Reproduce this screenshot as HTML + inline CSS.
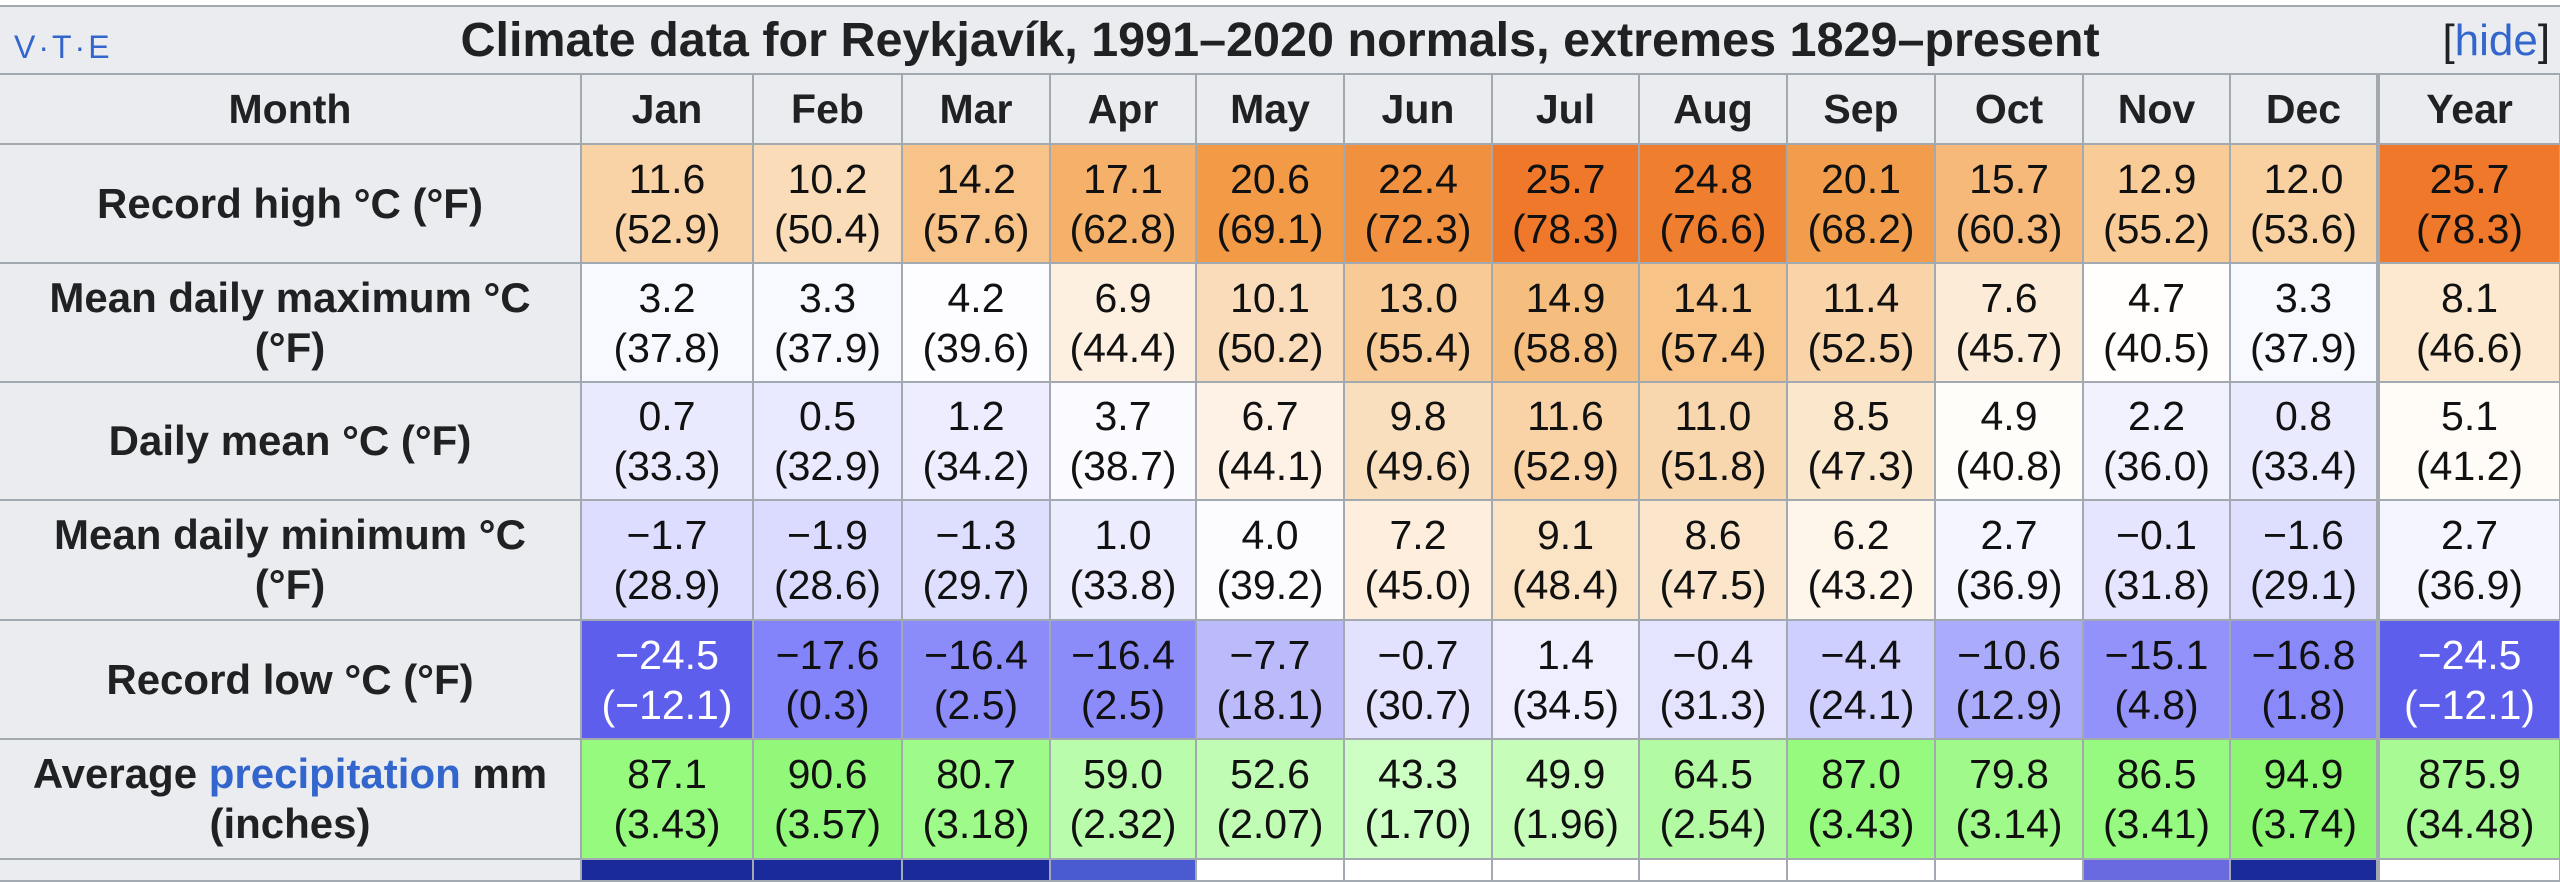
<!DOCTYPE html>
<html><head><meta charset="utf-8"><style>
html,body{margin:0;padding:0;background:#fff;width:2560px;height:860px;overflow:hidden}
table{position:absolute;left:0;top:5px;width:2560px;border-collapse:collapse;table-layout:fixed;font-family:"Liberation Sans",Arial,sans-serif;color:#202122}
td,th{border:2px solid #a2a9b1;padding:0;text-align:center;vertical-align:middle;overflow:hidden}
th{background:#eaecf0;font-weight:bold;font-size:41px;line-height:48px}
tr.r1 th,tr.r2 th,tr.r3 th,tr.r4 th,tr.r5 th,tr.r6 th{font-size:42px;line-height:50px}
td{font-size:41px;line-height:50px;color:#111}
.t th{height:66px}
.h th{height:68px}
tr.r1 > *{height:117px}
tr.r2 > *{height:117px}
tr.r3 > *{height:116px}
tr.r4 > *{height:118px}
tr.r5 > *{height:117px}
tr.r6 > *{height:118px}
.y{border-left:4px solid #a2a9b1}
.w{color:#fff}
a{color:#3366cc;text-decoration:none}
</style></head><body>
<table>
<colgroup><col style="width:581px"><col style="width:172px"><col style="width:149px"><col style="width:148px"><col style="width:146px"><col style="width:148px"><col style="width:148px"><col style="width:147px"><col style="width:148px"><col style="width:148px"><col style="width:148px"><col style="width:147px"><col style="width:148px"><col style="width:182px"></colgroup>
<tr class="t"><th colspan="14" style="position:relative;font-size:48.5px;border-left:none;border-right:none">
<span style="position:absolute;left:14px;top:16px;font-size:32px;font-weight:normal;color:#3366cc;letter-spacing:3px">V·T·E</span>
Climate data for Reykjavík, 1991–2020 normals, extremes 1829–present
<span style="position:absolute;right:10px;top:10px;font-size:44px;font-weight:normal;color:#202122">[<a>hide</a>]</span></th></tr>
<tr class="h"><th style="border-left:none">Month</th><th>Jan</th><th>Feb</th><th>Mar</th><th>Apr</th><th>May</th><th>Jun</th><th>Jul</th><th>Aug</th><th>Sep</th><th>Oct</th><th>Nov</th><th>Dec</th><th class="y">Year</th></tr>
<tr class="r1"><th style="border-left:none">Record high °C (°F)</th>
<td style="background:rgb(249,211,166)">11.6<br>(52.9)</td>
<td style="background:rgb(250,220,184)">10.2<br>(50.4)</td>
<td style="background:rgb(247,195,137)">14.2<br>(57.6)</td>
<td style="background:rgb(245,176,105)">17.1<br>(62.8)</td>
<td style="background:rgb(242,154,70)">20.6<br>(69.1)</td>
<td style="background:rgb(241,144,62)">22.4<br>(72.3)</td>
<td style="background:rgb(240,120,42)">25.7<br>(78.3)</td>
<td style="background:rgb(240,126,47)">24.8<br>(76.6)</td>
<td style="background:rgb(242,157,75)">20.1<br>(68.2)</td>
<td style="background:rgb(246,185,121)">15.7<br>(60.3)</td>
<td style="background:rgb(248,203,151)">12.9<br>(55.2)</td>
<td style="background:rgb(249,208,160)">12.0<br>(53.6)</td>
<td class="y" style="background:rgb(240,120,42)">25.7<br>(78.3)</td></tr>
<tr class="r2"><th style="border-left:none">Mean daily maximum °C<br>(°F)</th>
<td style="background:rgb(248,248,255)">3.2<br>(37.8)</td>
<td style="background:rgb(248,248,255)">3.3<br>(37.9)</td>
<td style="background:rgb(253,253,255)">4.2<br>(39.6)</td>
<td style="background:rgb(253,240,224)">6.9<br>(44.4)</td>
<td style="background:rgb(250,220,186)">10.1<br>(50.2)</td>
<td style="background:rgb(248,202,150)">13.0<br>(55.4)</td>
<td style="background:rgb(246,190,126)">14.9<br>(58.8)</td>
<td style="background:rgb(247,195,135)">14.1<br>(57.4)</td>
<td style="background:rgb(249,212,169)">11.4<br>(52.5)</td>
<td style="background:rgb(252,236,215)">7.6<br>(45.7)</td>
<td style="background:rgb(255,254,252)">4.7<br>(40.5)</td>
<td style="background:rgb(248,248,255)">3.3<br>(37.9)</td>
<td class="y" style="background:rgb(252,233,208)">8.1<br>(46.6)</td></tr>
<tr class="r3"><th style="border-left:none">Daily mean °C (°F)</th>
<td style="background:rgb(234,234,255)">0.7<br>(33.3)</td>
<td style="background:rgb(233,233,255)">0.5<br>(32.9)</td>
<td style="background:rgb(237,237,255)">1.2<br>(34.2)</td>
<td style="background:rgb(251,251,255)">3.7<br>(38.7)</td>
<td style="background:rgb(253,242,229)">6.7<br>(44.1)</td>
<td style="background:rgb(250,223,190)">9.8<br>(49.6)</td>
<td style="background:rgb(249,211,166)">11.6<br>(52.9)</td>
<td style="background:rgb(249,215,174)">11.0<br>(51.8)</td>
<td style="background:rgb(251,231,203)">8.5<br>(47.3)</td>
<td style="background:rgb(255,253,249)">4.9<br>(40.8)</td>
<td style="background:rgb(242,242,255)">2.2<br>(36.0)</td>
<td style="background:rgb(234,234,255)">0.8<br>(33.4)</td>
<td class="y" style="background:rgb(255,252,247)">5.1<br>(41.2)</td></tr>
<tr class="r4"><th style="border-left:none">Mean daily minimum °C<br>(°F)</th>
<td style="background:rgb(221,221,255)">−1.7<br>(28.9)</td>
<td style="background:rgb(219,219,255)">−1.9<br>(28.6)</td>
<td style="background:rgb(222,222,255)">−1.3<br>(29.7)</td>
<td style="background:rgb(236,236,255)">1.0<br>(33.8)</td>
<td style="background:rgb(252,252,255)">4.0<br>(39.2)</td>
<td style="background:rgb(253,238,221)">7.2<br>(45.0)</td>
<td style="background:rgb(251,228,198)">9.1<br>(48.4)</td>
<td style="background:rgb(251,230,203)">8.6<br>(47.5)</td>
<td style="background:rgb(254,245,235)">6.2<br>(43.2)</td>
<td style="background:rgb(245,245,255)">2.7<br>(36.9)</td>
<td style="background:rgb(229,229,255)">−0.1<br>(31.8)</td>
<td style="background:rgb(222,222,255)">−1.6<br>(29.1)</td>
<td class="y" style="background:rgb(245,245,255)">2.7<br>(36.9)</td></tr>
<tr class="r5"><th style="border-left:none">Record low °C (°F)</th>
<td class="w" style="background:rgb(94,94,236)">−24.5<br>(−12.1)</td>
<td style="background:rgb(132,132,250)">−17.6<br>(0.3)</td>
<td style="background:rgb(139,139,250)">−16.4<br>(2.5)</td>
<td style="background:rgb(139,139,250)">−16.4<br>(2.5)</td>
<td style="background:rgb(187,187,252)">−7.7<br>(18.1)</td>
<td style="background:rgb(226,226,255)">−0.7<br>(30.7)</td>
<td style="background:rgb(238,238,255)">1.4<br>(34.5)</td>
<td style="background:rgb(228,228,255)">−0.4<br>(31.3)</td>
<td style="background:rgb(206,206,255)">−4.4<br>(24.1)</td>
<td style="background:rgb(171,171,252)">−10.6<br>(12.9)</td>
<td style="background:rgb(146,146,250)">−15.1<br>(4.8)</td>
<td style="background:rgb(137,137,249)">−16.8<br>(1.8)</td>
<td class="y w" style="background:rgb(94,94,236)">−24.5<br>(−12.1)</td></tr>
<tr class="r6"><th style="border-left:none">Average <a>precipitation</a> mm<br>(inches)</th>
<td style="background:rgb(150,250,127)">87.1<br>(3.43)</td>
<td style="background:rgb(145,248,122)">90.6<br>(3.57)</td>
<td style="background:rgb(158,250,137)">80.7<br>(3.18)</td>
<td style="background:rgb(185,252,171)">59.0<br>(2.32)</td>
<td style="background:rgb(193,252,181)">52.6<br>(2.07)</td>
<td style="background:rgb(205,254,195)">43.3<br>(1.70)</td>
<td style="background:rgb(197,253,185)">49.9<br>(1.96)</td>
<td style="background:rgb(178,251,162)">64.5<br>(2.54)</td>
<td style="background:rgb(150,250,127)">87.0<br>(3.43)</td>
<td style="background:rgb(159,250,138)">79.8<br>(3.14)</td>
<td style="background:rgb(151,250,128)">86.5<br>(3.41)</td>
<td style="background:rgb(140,246,115)">94.9<br>(3.74)</td>
<td class="y" style="background:rgb(168,250,149)">875.9<br>(34.48)</td></tr>
<tr><th style="height:20px;border-left:none"></th>
<td style="background:#1a2a9a"></td><td style="background:#1a2a9a"></td><td style="background:#1a2a9a"></td><td style="background:#4a5ad0"></td><td style="background:#fff"></td><td style="background:#fff"></td><td style="background:#fff"></td><td style="background:#fff"></td><td style="background:#fff"></td><td style="background:#fff"></td><td style="background:#6a6ae0"></td><td style="background:#1a2a9a"></td><td class="y" style="background:#fff"></td></tr>
</table>
</body></html>
